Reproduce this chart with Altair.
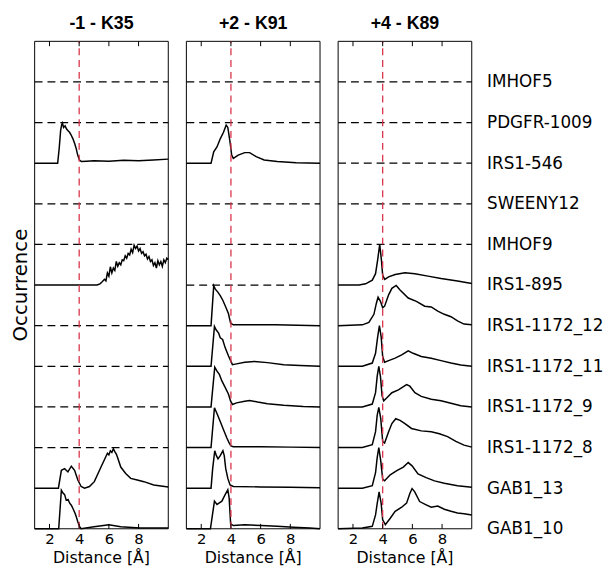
import altair as alt
import pandas as pd

# ---------------- data ----------------
ROWS = ["IMHOF5", "PDGFR-1009", "IRS1-546", "SWEENY12", "IMHOF9", "IRS1-895",
        "IRS1-1172_12", "IRS1-1172_11", "IRS1-1172_9", "IRS1-1172_8",
        "GAB1_13", "GAB1_10"]
PANELS = ["-1 - K35", "+2 - K91", "+4 - K89"]
X_TICKS = [2, 4, 6, 8]
X_RANGE = [1, 10]
CUTOFF = 4

# Panel -1 - K35
K35_IRS1_546_X = [1.0, 2.55, 2.65, 2.75, 2.82, 2.87, 2.95, 3.05, 3.15, 3.25, 3.35, 3.45, 3.58, 3.7, 3.8, 3.9, 4.02, 4.15, 4.5, 5, 6, 7, 8, 9, 10]
K35_IRS1_546_Y = [0, 0, 0.35, 0.8, 0.95, 0.99, 0.88, 0.92, 0.84, 0.8, 0.76, 0.7, 0.6, 0.48, 0.36, 0.2, 0.08, 0.04, 0.05, 0.06, 0.05, 0.07, 0.06, 0.08, 0.1]
K35_IRS1_895_X = [1.0, 5.2, 5.4, 5.55, 5.7, 5.8, 5.9, 6.0, 6.1, 6.2, 6.3, 6.4, 6.5, 6.6, 6.7, 6.8, 6.9, 7.0, 7.1, 7.2, 7.3, 7.4, 7.5, 7.6, 7.7, 7.8, 7.9, 8.0, 8.1, 8.2, 8.3, 8.4, 8.5, 8.6, 8.7, 8.8, 8.9, 9.0, 9.1, 9.2, 9.3, 9.4, 9.5, 9.6, 9.7, 9.8, 9.9, 10.0]
K35_IRS1_895_Y = [0, 0, 0.03, 0.08, 0.14, 0.1, 0.3, 0.22, 0.45, 0.3, 0.42, 0.36, 0.58, 0.46, 0.55, 0.5, 0.62, 0.6, 0.72, 0.66, 0.78, 0.74, 0.88, 0.8, 0.98, 0.9, 0.96, 0.84, 0.9, 0.78, 0.82, 0.72, 0.76, 0.64, 0.7, 0.58, 0.62, 0.48, 0.55, 0.42, 0.6, 0.5, 0.58, 0.46, 0.62, 0.55, 0.66, 0.62]
K35_GAB1_13_X = [1.0, 2.6, 2.8, 3.02, 3.24, 3.47, 3.69, 3.91, 4.13, 4.36, 4.69, 5.02, 5.47, 5.8, 5.9, 6.0, 6.1, 6.2, 6.3, 6.4, 6.5, 6.58, 6.8, 7.13, 7.47, 7.91, 8.36, 9.02, 10.0]
K35_GAB1_13_Y = [0, 0, 0.44, 0.48, 0.4, 0.54, 0.44, 0.2, 0.04, 0.0, 0.04, 0.16, 0.52, 0.78, 0.86, 0.82, 0.92, 0.88, 0.97, 0.9, 0.84, 0.76, 0.52, 0.36, 0.24, 0.2, 0.16, 0.08, 0.03]
K35_GAB1_10_X = [1.0, 2.62, 2.8, 2.91, 3.02, 3.13, 3.25, 3.36, 3.47, 3.58, 3.7, 3.8, 3.9, 4.02, 4.13, 5.0, 6.0, 6.8, 8.1, 10.0]
K35_GAB1_10_Y = [0, 0, 0.95, 0.88, 0.84, 0.7, 0.72, 0.63, 0.58, 0.5, 0.4, 0.3, 0.18, 0.06, 0.0, 0.05, 0.1, 0.05, 0.02, 0.02]

# Panel +2 - K91
K91_IRS1_546_X = [1.0, 2.66, 2.84, 3.06, 3.28, 3.5, 3.68, 3.79, 3.94, 4.05, 4.16, 4.49, 4.93, 5.26, 5.7, 6.24, 7.12, 8.4, 10.0]
K91_IRS1_546_Y = [0, 0, 0.28, 0.4, 0.6, 0.76, 0.94, 0.88, 0.52, 0.2, 0.12, 0.2, 0.26, 0.26, 0.16, 0.08, 0.04, 0.01, 0]
K91_1172_12_X = [1.0, 2.66, 2.84, 2.95, 3.13, 3.28, 3.46, 3.65, 3.83, 3.98, 4.16, 5.0, 7.0, 10.0]
K91_1172_12_Y = [0, 0, 0.98, 0.9, 0.82, 0.74, 0.62, 0.46, 0.3, 0.06, 0.02, 0.02, 0.02, 0.0]
K91_1172_11_X = [1.0, 2.66, 2.89, 3.0, 3.17, 3.28, 3.44, 3.61, 3.83, 3.98, 4.1, 4.38, 4.93, 5.58, 6.46, 7.56, 8.65, 10.0]
K91_1172_11_Y = [0, 0, 0.98, 0.9, 0.82, 0.7, 0.66, 0.46, 0.26, 0.14, 0.04, 0.06, 0.1, 0.12, 0.09, 0.04, 0.02, 0]
K91_1172_9_X = [1.0, 2.66, 2.91, 3.06, 3.22, 3.39, 3.61, 3.83, 3.98, 4.1, 4.38, 4.93, 5.26, 5.8, 6.46, 7.56, 8.87, 10.0]
K91_1172_9_Y = [0, 0, 0.98, 0.88, 0.8, 0.64, 0.48, 0.32, 0.14, 0.06, 0.1, 0.14, 0.16, 0.12, 0.08, 0.04, 0.01, 0]
K91_1172_8_X = [1.0, 2.66, 2.89, 3.06, 3.28, 3.5, 3.72, 3.87, 4.0, 4.16, 6.0, 8.0, 10.0]
K91_1172_8_Y = [0, 0, 0.98, 0.84, 0.64, 0.44, 0.24, 0.12, 0.04, 0.02, 0.02, 0.01, 0]
K91_GAB1_13_X = [1.0, 2.66, 2.77, 2.91, 3.02, 3.13, 3.28, 3.46, 3.55, 3.65, 3.79, 3.94, 4.16, 6.0, 8.0, 10.0]
K91_GAB1_13_Y = [0, 0, 0.48, 0.92, 0.8, 0.72, 0.8, 0.92, 0.8, 0.48, 0.24, 0.08, 0.04, 0.03, 0.02, 0.01]
K91_GAB1_10_X = [1.0, 2.62, 2.73, 2.89, 3.06, 3.22, 3.39, 3.61, 3.79, 3.88, 3.98, 4.16, 4.93, 6.02, 7.12, 8.2, 9.3, 10.0]
K91_GAB1_10_Y = [0, 0, 0.28, 0.68, 0.6, 0.64, 0.68, 0.84, 0.96, 0.76, 0.12, 0.08, 0.1, 0.08, 0.06, 0.04, 0.02, 0]

# Panel +4 - K89
K89_IRS1_895_X = [1.0, 2.41, 2.85, 3.3, 3.52, 3.67, 3.8, 3.91, 4.0, 4.14, 4.4, 4.84, 5.5, 6.17, 7.05, 7.93, 9.04, 10.0]
K89_IRS1_895_Y = [0, 0, 0.03, 0.12, 0.28, 0.64, 1.0, 0.64, 0.24, 0.14, 0.2, 0.26, 0.3, 0.28, 0.22, 0.16, 0.1, 0.04]
K89_1172_12_X = [1.0, 2.63, 3.07, 3.41, 3.58, 3.69, 3.85, 4.0, 4.13, 4.4, 4.62, 4.91, 5.17, 5.72, 6.27, 6.83, 7.27, 7.71, 8.15, 8.6, 9.04, 9.48, 10.0]
K89_1172_12_Y = [0, 0.02, 0.08, 0.28, 0.56, 0.7, 0.6, 0.44, 0.48, 0.76, 0.92, 0.99, 0.88, 0.68, 0.6, 0.48, 0.46, 0.36, 0.28, 0.22, 0.12, 0.04, 0.02]
K89_1172_11_X = [1.0, 2.63, 3.3, 3.52, 3.66, 3.78, 3.9, 4.0, 4.13, 4.4, 4.84, 5.28, 5.72, 6.05, 6.6, 7.27, 7.93, 8.6, 9.26, 10.0]
K89_1172_11_Y = [0, 0, 0.08, 0.32, 0.72, 1.0, 0.72, 0.24, 0.1, 0.14, 0.2, 0.28, 0.38, 0.32, 0.24, 0.2, 0.14, 0.08, 0.03, 0]
K89_1172_9_X = [1.0, 2.63, 3.3, 3.52, 3.63, 3.74, 3.85, 3.96, 4.07, 4.3, 4.62, 5.06, 5.61, 5.83, 6.17, 6.6, 7.27, 7.93, 8.6, 9.26, 10.0]
K89_1172_9_Y = [0, 0, 0.07, 0.35, 0.75, 1.0, 0.75, 0.27, 0.15, 0.23, 0.35, 0.42, 0.55, 0.51, 0.35, 0.26, 0.19, 0.15, 0.09, 0.03, 0]
K89_1172_8_X = [1.0, 2.63, 3.3, 3.52, 3.63, 3.74, 3.87, 4.0, 4.13, 4.4, 4.62, 4.88, 5.17, 5.5, 5.94, 6.6, 7.27, 7.82, 8.37, 8.93, 9.48, 10.0]
K89_1172_8_Y = [0, 0, 0.07, 0.39, 0.79, 0.99, 0.71, 0.15, 0.11, 0.39, 0.59, 0.71, 0.67, 0.59, 0.47, 0.41, 0.39, 0.34, 0.27, 0.15, 0.06, 0.01]
K89_GAB1_13_X = [1.0, 2.63, 3.3, 3.52, 3.63, 3.74, 3.87, 4.0, 4.13, 4.51, 4.95, 5.39, 5.72, 5.98, 6.38, 6.93, 7.49, 8.15, 9.04, 10.0]
K89_GAB1_13_Y = [0, 0, 0.06, 0.38, 0.75, 1.0, 0.67, 0.22, 0.18, 0.33, 0.43, 0.52, 0.63, 0.55, 0.35, 0.26, 0.18, 0.12, 0.06, 0.02]
K89_GAB1_10_X = [1.0, 2.63, 3.3, 3.52, 3.63, 3.76, 3.9, 4.0, 4.18, 4.51, 4.84, 5.28, 5.61, 5.83, 5.98, 6.16, 6.49, 6.93, 7.27, 7.71, 8.15, 8.6, 9.04, 9.48, 10.0]
K89_GAB1_10_Y = [0, 0.02, 0.06, 0.34, 0.62, 0.91, 0.62, 0.22, 0.1, 0.26, 0.43, 0.53, 0.63, 0.87, 0.99, 0.91, 0.67, 0.59, 0.53, 0.56, 0.48, 0.43, 0.39, 0.37, 0.34]

CURVES = [
    (0, "IRS1-546", K35_IRS1_546_X, K35_IRS1_546_Y),
    (0, "IRS1-895", K35_IRS1_895_X, K35_IRS1_895_Y),
    (0, "GAB1_13", K35_GAB1_13_X, K35_GAB1_13_Y),
    (0, "GAB1_10", K35_GAB1_10_X, K35_GAB1_10_Y),
    (1, "IRS1-546", K91_IRS1_546_X, K91_IRS1_546_Y),
    (1, "IRS1-1172_12", K91_1172_12_X, K91_1172_12_Y),
    (1, "IRS1-1172_11", K91_1172_11_X, K91_1172_11_Y),
    (1, "IRS1-1172_9", K91_1172_9_X, K91_1172_9_Y),
    (1, "IRS1-1172_8", K91_1172_8_X, K91_1172_8_Y),
    (1, "GAB1_13", K91_GAB1_13_X, K91_GAB1_13_Y),
    (1, "GAB1_10", K91_GAB1_10_X, K91_GAB1_10_Y),
    (2, "IRS1-895", K89_IRS1_895_X, K89_IRS1_895_Y),
    (2, "IRS1-1172_12", K89_1172_12_X, K89_1172_12_Y),
    (2, "IRS1-1172_11", K89_1172_11_X, K89_1172_11_Y),
    (2, "IRS1-1172_9", K89_1172_9_X, K89_1172_9_Y),
    (2, "IRS1-1172_8", K89_1172_8_X, K89_1172_8_Y),
    (2, "GAB1_13", K89_GAB1_13_X, K89_GAB1_13_Y),
    (2, "GAB1_10", K89_GAB1_10_X, K89_GAB1_10_Y),
]

# ---------------- layout: three panels side by side on one x scale ----------------
NROW = len(ROWS)
STRIDE = 10.22          # panel width (9) + gap, in x units
TOP = NROW              # y value of the top frame edge
TICK_LEN = 0.12         # inward tick length, in row units


def off(p):
    return p * STRIDE


line_recs, empty_recs, frame_recs, red_recs, tick_recs, title_recs = [], [], [], [], [], []
for p in range(len(PANELS)):
    used = set()
    for (pp, name, xs, ys) in CURVES:
        if pp != p:
            continue
        used.add(name)
        base = NROW - 1 - ROWS.index(name)
        for i, (xv, yv) in enumerate(zip(xs, ys)):
            line_recs.append({"key": f"{p}|{name}", "i": i, "x": xv + off(p), "yv": base + yv})
    for name in ROWS:
        if name not in used:
            empty_recs.append({"x": X_RANGE[0] + off(p), "x2": X_RANGE[1] + off(p),
                               "yv": NROW - 1 - ROWS.index(name)})
    frame_recs.append({"x": X_RANGE[0] + off(p), "x2": X_RANGE[1] + off(p), "yv": 0, "yv2": TOP})
    red_recs.append({"x": CUTOFF + off(p), "yv": 0, "yv2": TOP})
    for t in X_TICKS:
        tick_recs.append({"x": t + off(p), "yv": TOP, "yv2": TOP - TICK_LEN})
        tick_recs.append({"x": t + off(p), "yv": 0, "yv2": TICK_LEN})
    mid = (X_RANGE[0] + X_RANGE[1]) / 2 + off(p)
    title_recs.append({"x": mid, "text": PANELS[p], "xtitle": "Distance [Å]"})

tick_vals = [t + off(p) for p in range(len(PANELS)) for t in X_TICKS]
label_expr_x = "format(datum.value - %s*floor((datum.value - 1)/%s), '.0f')" % (STRIDE, STRIDE)
label_expr_y = "[" + ",".join("'%s'" % r for r in ROWS[::-1]) + "][datum.value]"

xscale = alt.Scale(domain=[X_RANGE[0], X_RANGE[1] + off(len(PANELS) - 1)], nice=False, zero=False)
yscale = alt.Scale(domain=[0, TOP], nice=False, zero=False)

xenc = alt.X("x:Q", scale=xscale,
             axis=alt.Axis(values=tick_vals, labelExpr=label_expr_x, title=None, ticks=False,
                           domain=False, grid=False, labelFontSize=15, labelPadding=3,
                           labelFlush=False))
yenc = alt.Y("yv:Q", scale=yscale,
             axis=alt.Axis(orient="right", values=list(range(NROW)), labelExpr=label_expr_y,
                           ticks=False, domain=False, grid=False, title=None,
                           labelFontSize=17, labelPadding=15, labelBaseline="middle"))

title_df = pd.DataFrame(title_recs)

frames = alt.Chart(pd.DataFrame(frame_recs)).mark_rect(
    fillOpacity=0, stroke="black", strokeWidth=1).encode(x=xenc, x2="x2:Q", y=yenc, y2="yv2:Q")
dashed = alt.Chart(pd.DataFrame(empty_recs)).mark_rule(
    color="black", strokeDash=[8, 5], strokeWidth=1.2).encode(x=xenc, x2="x2:Q", y=yenc)
lines = alt.Chart(pd.DataFrame(line_recs)).mark_line(color="black", strokeWidth=1.5).encode(
    x=xenc, y=yenc, detail="key:N", order="i:Q")
red = alt.Chart(pd.DataFrame(red_recs)).mark_rule(
    color="#d9344a", strokeDash=[7, 5], strokeWidth=1.3).encode(x=xenc, y=yenc, y2="yv2:Q")
ticks = alt.Chart(pd.DataFrame(tick_recs)).mark_rule(color="black", strokeWidth=1).encode(
    x=xenc, y=yenc, y2="yv2:Q")
titles = alt.Chart(title_df).mark_text(
    font="Liberation Sans", fontSize=18, fontWeight="bold", baseline="alphabetic",
    align="center", color="black").encode(x=xenc, y=alt.value(-12), text="text:N")
xtitles = alt.Chart(title_df).mark_text(
    font="DejaVu Sans", fontSize=16, baseline="alphabetic", align="center",
    color="black").encode(x=xenc, y={"value": {"expr": "height + 35"}}, text="xtitle:N")
occ = alt.Chart(pd.DataFrame({"yv": [NROW / 2], "text": ["Occurrence"]})).mark_text(
    font="DejaVu Sans", fontSize=20, angle=270, baseline="middle", align="center",
    color="black").encode(x=alt.value(-14), y=yenc, text="text:N")

chart = alt.layer(frames, dashed, lines, red, ticks, titles, xtitles, occ).properties(
    width=603, height=562,
    autosize=alt.AutoSizeParams(type="fit", contains="padding"),
    padding={"left": 3, "top": 4, "right": 0, "bottom": 0}
).configure_view(stroke="transparent").configure_axis(
    labelFont="DejaVu Sans", labelColor="black")

chart.save("out.html", embed_options={"renderer": "svg", "actions": False})
